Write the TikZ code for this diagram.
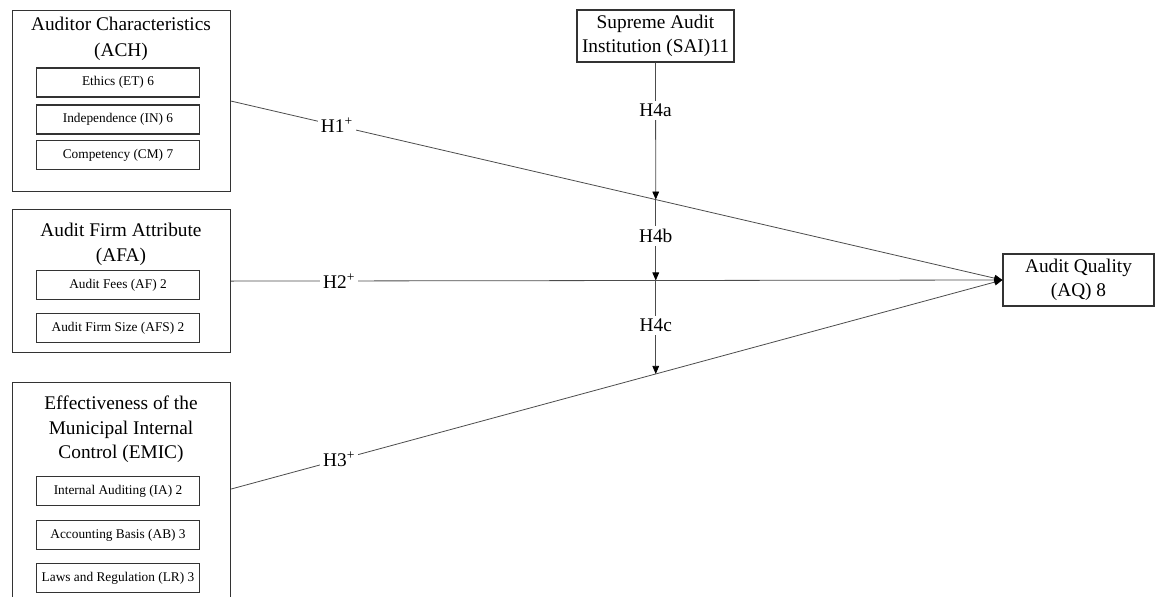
\documentclass[tikz,border=0pt]{standalone}
\usepackage{fontspec}
\setmainfont{Liberation Serif}
\usetikzlibrary{arrows.meta,calc}
\begin{document}
\begin{tikzpicture}[x=0.75pt,y=-0.75pt,
  outer/.style={draw=black!80, line width=0.9pt, inner sep=0, anchor=north west},
  innerbox/.style={draw=black!80, line width=0.8pt, minimum width=163*0.75pt, minimum height=29*0.75pt, inner sep=0, font=\fontsize{10}{12}\selectfont},
  big/.style={font=\fontsize{14.5}{17}\selectfont, inner sep=0, anchor=base},
  bigbox/.style={draw=black!80, line width=0.9pt, align=center, inner sep=0, font=\fontsize{14.5}{18.5}\selectfont},
  conn/.style={draw=black!70, line width=0.6pt},
  arr/.style={conn, -{Triangle[length=6pt,width=5pt,color=black]}},
  hlab/.style={fill=white, font=\fontsize{14.5}{17}\selectfont, inner sep=2.5pt}]
\useasboundingbox (0,0) rectangle (1156,596);

% outer boxes
\node[outer, minimum width=218*0.75pt, minimum height=181*0.75pt] (ach) at (12,10) {};
\node[outer, minimum width=218*0.75pt, minimum height=143*0.75pt] (afa) at (12,209) {};
\node[outer, minimum width=218*0.75pt, minimum height=240*0.75pt] (emic) at (12,382) {};

% titles
\node[big] (acht1) at (121,30) {Auditor Characteristics};
\node[big] (acht2) at (121,56) {(ACH)};
\node[big] (afat1) at (121,236) {Audit Firm Attribute};
\node[big] (afat2) at (121,261) {(AFA)};
\node[big] (emict1) at (121,409) {Effectiveness of the};
\node[big] (emict2) at (121,434) {Municipal Internal};
\node[big] (emict3) at (121,458) {Control (EMIC)};

% inner boxes
\node[innerbox] (et) at (118,82.5) {Ethics (ET) 6};
\node[innerbox] (in) at (118,119.5) {Independence (IN) 6};
\node[innerbox] (cm) at (118,155) {Competency (CM) 7};
\node[innerbox] (af) at (118,285) {Audit Fees (AF) 2};
\node[innerbox] (afs) at (118,328) {Audit Firm Size (AFS) 2};
\node[innerbox] (ia) at (118,491) {Internal Auditing (IA) 2};
\node[innerbox] (ab) at (118,535) {Accounting Basis (AB) 3};
\node[innerbox] (lr) at (118,578) {Laws and Regulation (LR) 3};

% SAI and AQ
\node[bigbox, minimum width=157*0.75pt, minimum height=52*0.75pt] (sai) at (655.5,36) {Supreme Audit\\Institution (SAI)11};
\node[bigbox, minimum width=151*0.75pt, minimum height=52*0.75pt] (aq) at (1078.5,280) {Audit Quality\\(AQ) 8};

\coordinate (h3s) at ($(emic.north east)+(0,107)$);

% hypotheses H1-H3
\draw[arr] (ach.east) -- coordinate[pos=0.5505] (p1) node[pos=0.137, hlab] (h1) {H1\textsuperscript{+}} (aq.west);
\draw[arr] (afa.east) -- coordinate[pos=0.5505] (p2) node[pos=0.14, hlab] (h2) {H2\textsuperscript{+}} (aq.west);
\draw[arr] (h3s) -- coordinate[pos=0.5505] (p3) node[pos=0.14, hlab] (h3) {H3\textsuperscript{+}} (aq.west);

% moderation H4
\draw[arr] (sai.south) -- node[pos=0.35, hlab] (h4a) {H4a} (p1);
\draw[arr] (p1) -- node[pos=0.45, hlab] (h4b) {H4b} (p2);
\draw[arr] (p2) -- node[pos=0.48, hlab] (h4c) {H4c} (p3);
\end{tikzpicture}
\end{document}
